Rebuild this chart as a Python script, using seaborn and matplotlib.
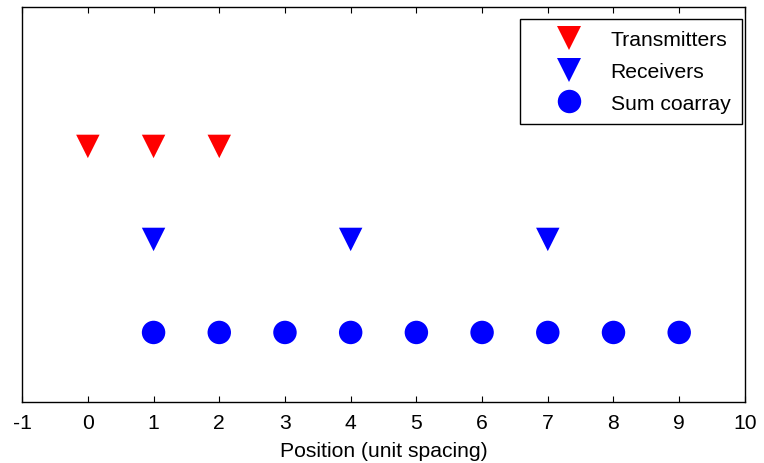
import matplotlib
matplotlib.use('Agg')
import matplotlib.pyplot as plt
import numpy as np
import pandas as pd
import seaborn as sns

# array positions (unit spacing)
transmitters = [0, 1, 2]
receivers = [1, 4, 7]
coarray = [1, 2, 3, 4, 5, 6, 7, 8, 9]
labels = ['Transmitters', 'Receivers', 'Sum coarray']
rows = [3, 2, 1]
xticks = list(range(-1, 11))

df = pd.concat([
    pd.DataFrame({'pos': transmitters, 'row': rows[0], 'kind': labels[0]}),
    pd.DataFrame({'pos': receivers, 'row': rows[1], 'kind': labels[1]}),
    pd.DataFrame({'pos': coarray, 'row': rows[2], 'kind': labels[2]}),
], ignore_index=True)

sns.set_style('white')
plt.rcParams['font.family'] = ['Liberation Sans', 'DejaVu Sans']
plt.rcParams['axes.unicode_minus'] = False
plt.rcParams['text.color'] = 'black'
plt.rcParams['axes.labelcolor'] = 'black'
plt.rcParams['xtick.color'] = 'black'
fs = 15.2

fig = plt.figure(figsize=(7.64, 4.64), dpi=100)
ax = fig.add_axes([0.029, 0.131, 0.946, 0.852])

sns.scatterplot(data=df, x='pos', y='row', hue='kind', style='kind',
                palette={labels[0]: '#ff0000', labels[1]: '#0000ff', labels[2]: '#0000ff'},
                markers={labels[0]: 'v', labels[1]: 'v', labels[2]: 'o'},
                s=285, linewidth=0, ax=ax)

ax.set_xlim(-1, 10)
ax.set_ylim(0.25, 4.5)
ax.set_xticks(xticks)
ax.set_yticks([])
ax.set_xlabel('Position (unit spacing)', fontsize=fs, labelpad=6)
ax.set_ylabel('')
ax.tick_params(axis='x', direction='in', length=4, width=0.8, top=True, bottom=True,
               labelsize=fs, color='black', labelcolor='black', pad=8)
for sp in ax.spines.values():
    sp.set_visible(True)
    sp.set_color('black')
    sp.set_linewidth(1.0)

leg = ax.legend(loc='upper right', bbox_to_anchor=(0.996, 0.97), borderaxespad=0,
                fontsize=fs, frameon=True, fancybox=False, edgecolor='black',
                framealpha=1, markerscale=1.0, handlelength=3.6, handletextpad=0.15,
                borderpad=0.55, labelspacing=0.6, title=None)
leg.get_frame().set_linewidth(1.0)
for t in leg.get_texts():
    t.set_color('black')

fig.savefig('out.png', dpi=100)
